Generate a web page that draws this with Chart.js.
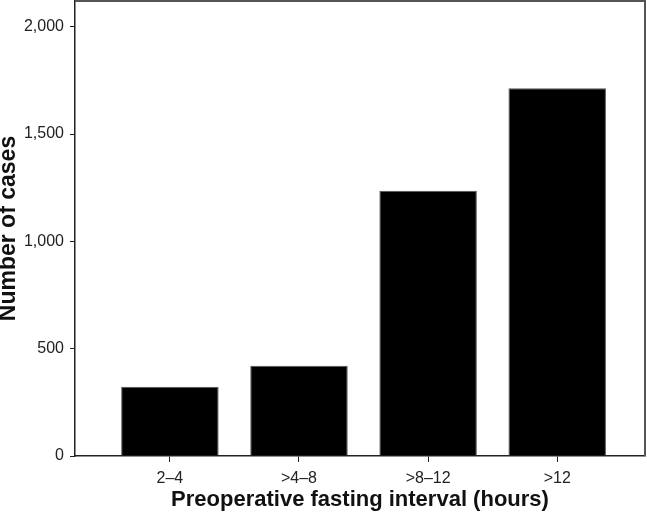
<!DOCTYPE html>
<html>
<head>
<meta charset="utf-8">
<script src="https://cdn.jsdelivr.net/npm/chart.js@4/dist/chart.umd.min.js"></script>
<style>
  html, body { margin: 0; padding: 0; background: #fff; }
  #wrap { width: 647px; height: 512px; }
</style>
</head>
<body>
<div id="wrap"><canvas id="c" width="647" height="512"></canvas></div>
<script>
const categories = ['2\u20134', '>4\u20138', '>8\u201312', '>12'];
const cases = [323, 421, 1236, 1713];
const yTicks = [0, 500, 1000, 1500, 2000];

const FONT = '"Liberation Sans", Arial, Helvetica, sans-serif';

const framePlugin = {
  id: 'frame',
  afterDraw(chart) {
    const a = chart.chartArea, ctx = chart.ctx;
    ctx.save();
    ctx.strokeStyle = '#555';
    ctx.lineWidth = 2;
    ctx.beginPath();
    ctx.moveTo(a.left, a.top);
    ctx.lineTo(a.right, a.top);
    ctx.lineTo(a.right, a.bottom);
    ctx.stroke();
    ctx.restore();
  }
};

new Chart(document.getElementById('c'), {
  type: 'bar',
  data: {
    datasets: [{
      data: cases.map((v, i) => ({ x: i + 1, y: v })),
      backgroundColor: '#000',
      borderColor: '#555',
      borderWidth: 1,
      categoryPercentage: 1,
      barPercentage: 0.755
    }]
  },
  options: {
    responsive: false,
    animation: false,
    layout: { padding: { top: 1, right: 2, left: 0, bottom: 0 } },
    plugins: { legend: { display: false }, tooltip: { enabled: false } },
    scales: {
      x: {
        type: 'linear',
        offset: false,
        min: 0.265,
        max: 4.68,
        afterBuildTicks: (s) => { s.ticks = categories.map((_, i) => ({ value: i + 1 })); },
        afterFit: (s) => { s.height = 56; s.paddingLeft = 0; s.paddingRight = 0; },
        grid: { display: true, offset: false, drawOnChartArea: false, drawTicks: true, tickLength: 6, color: '#222', lineWidth: 1 },
        border: { display: true, color: '#222', width: 1.5 },
        ticks: {
          autoSkip: false,
          maxRotation: 0,
          padding: 7,
          color: '#222',
          font: { family: FONT, size: 16 },
          callback: (v) => categories[Math.round(v) - 1] || ''
        },
        title: {
          display: true,
          text: 'Preoperative fasting interval (hours)',
          color: '#111',
          font: { family: FONT, size: 22, weight: 'bold', lineHeight: 1.1 },
          padding: 0
        }
      },
      y: {
        min: 0,
        max: 2120,
        afterBuildTicks: (s) => { s.ticks = yTicks.map(v => ({ value: v })); },
        afterFit: (s) => { s.width = 75; s.paddingTop = 0; s.paddingBottom = 0; },
        grid: { display: true, drawOnChartArea: false, drawTicks: true, tickLength: 5, color: '#222', lineWidth: 1 },
        border: { display: true, color: '#222', width: 1.5 },
        ticks: {
          padding: 6,
          color: '#222',
          font: { family: FONT, size: 16 },
          callback: (v) => v.toLocaleString('en-US')
        },
        title: {
          display: true,
          text: 'Number of cases',
          color: '#111',
          font: { family: FONT, size: 23, weight: 'bold', lineHeight: 0.75 },
          padding: 0
        }
      }
    }
  },
  plugins: [framePlugin]
});
</script>
</body>
</html>
